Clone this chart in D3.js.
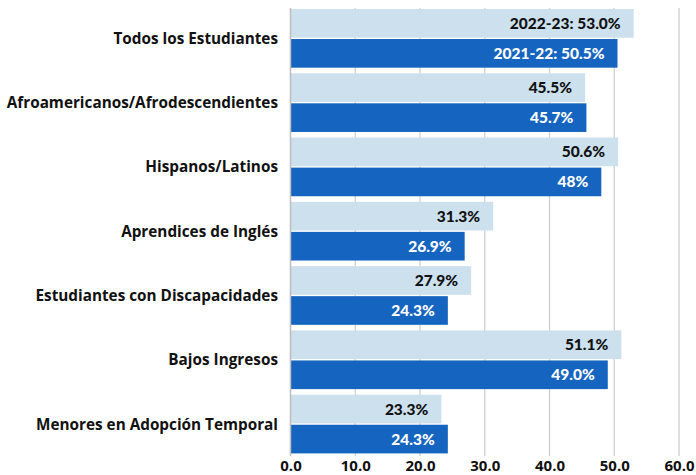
<!DOCTYPE html>
<html><head><meta charset="utf-8">
<script src="https://cdn.jsdelivr.net/npm/d3@7"></script>
<style>body{margin:0;background:#fff}svg{display:block}</style>
</head><body>
<svg id="c" width="696" height="475"></svg>
<script>
const categories = ["Todos los Estudiantes","Afroamericanos/Afrodescendientes","Hispanos/Latinos","Aprendices de Inglés","Estudiantes con Discapacidades","Bajos Ingresos","Menores en Adopción Temporal"];
const series = ["2022-23","2021-22"];
const values2223 = [53.0,45.5,50.6,31.3,27.9,51.1,23.3];
const values2122 = [50.5,45.7,48,26.9,24.3,49.0,24.3];
const labels2223 = ["2022-23: 53.0%","45.5%","50.6%","31.3%","27.9%","51.1%","23.3%"];
const labels2122 = ["2021-22: 50.5%","45.7%","48%","26.9%","24.3%","49.0%","24.3%"];
const xTicks = [0,10,20,30,40,50,60];
const xTickLabels = ["0.0","10.0","20.0","30.0","40.0","50.0","60.0"];

const colors = {"2022-23":"#cce0ee","2021-22":"#1565c0"};
const textColors = {"2022-23":"#111","2021-22":"#fff"};

const svg = d3.select("#c");
const x = d3.scaleLinear().domain([0,60]).range([290.5,679]);
const y = d3.scaleBand().domain(categories).range([6.2,456.2]).paddingInner(0.087).paddingOuter(0.0435);
const ys = d3.scaleBand().domain(series).range([0,y.bandwidth()]).paddingInner(0.045);

// gridlines
svg.append("g").selectAll("line").data(xTicks.slice(1)).join("line")
  .attr("x1",d=>x(d)).attr("x2",d=>x(d)).attr("y1",8).attr("y2",456)
  .attr("stroke","#d0d0d0").attr("stroke-width",1.3);

const rows = categories.map((c,i)=>({c, vals:[
  {s:"2022-23", v:values2223[i], l:labels2223[i]},
  {s:"2021-22", v:values2122[i], l:labels2122[i]}]}));

const g = svg.append("g").selectAll("g").data(rows).join("g")
  .attr("transform",d=>`translate(0,${y(d.c)})`);
g.selectAll("rect").data(d=>d.vals).join("rect")
  .attr("x",x(0)).attr("y",d=>ys(d.s)).attr("width",d=>x(d.v)-x(0)).attr("height",ys.bandwidth())
  .attr("fill",d=>colors[d.s]);
g.selectAll("text").data(d=>d.vals).join("text")
  .attr("x",d=>x(d.v)-13).attr("y",d=>ys(d.s)+ys.bandwidth()/2).attr("dy","0.36em")
  .attr("text-anchor","end").attr("fill",d=>textColors[d.s])
  .style("font-family","Lato, sans-serif").style("font-weight","900").style("font-size","15.5px")
  .text(d=>d.l);

// zero axis line
svg.append("line").attr("x1",x(0)).attr("x2",x(0)).attr("y1",8).attr("y2",456)
  .attr("stroke","#bdbdbd").attr("stroke-width",1.5);

// category labels
svg.append("g").selectAll("text").data(categories).join("text")
  .attr("x",278).attr("y",d=>y(d)+y.bandwidth()/2).attr("dy","0.36em")
  .attr("text-anchor","end").attr("fill","#111")
  .style("font-family","'Open Sans', sans-serif").style("font-weight","700").style("font-size","15.3px")
  .text(d=>d);

// x axis labels
const xAxis = d3.axisBottom(x).tickValues(xTicks).tickFormat((d,i)=>xTickLabels[i]).tickSize(0).tickPadding(0);
const ax = svg.append("g").attr("transform","translate(0,456)").call(xAxis);
ax.select(".domain").remove();
ax.selectAll("text").attr("fill","#111").attr("dy","0.71em").attr("y",4)
  .style("font-family","'Open Sans', sans-serif").style("font-weight","700").style("font-size","15px");
</script>
</body></html>
